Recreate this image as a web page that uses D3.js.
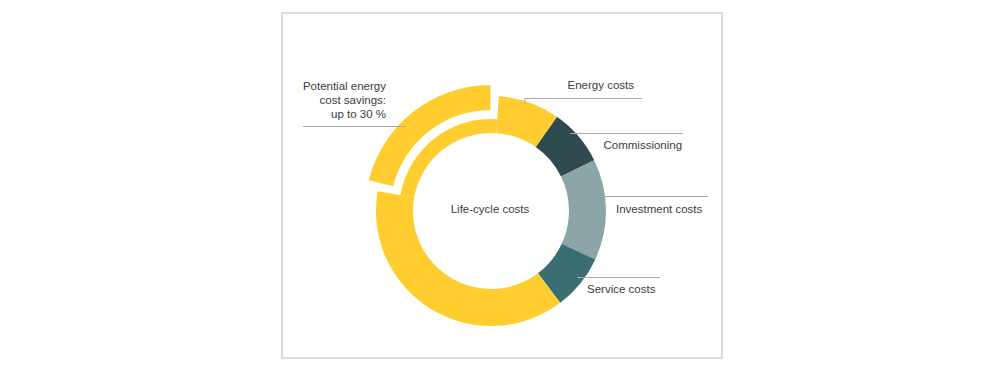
<!DOCTYPE html>
<html>
<head>
<meta charset="utf-8">
<script src="https://cdn.jsdelivr.net/npm/d3@7"></script>
<style>
  html, body { margin: 0; padding: 0; background: #fff; }
  svg { display: block; }
  text { font-family: "Liberation Sans", Arial, Helvetica, sans-serif; font-size: 11.5px; fill: #3d3d3d; }
</style>
</head>
<body>
<svg id="chart" width="1000" height="375"></svg>
<script>
// ---- data (percent of life-cycle costs) ----
const categories = ["Commissioning", "Investment costs", "Service costs", "Energy costs"];
const values     = [8, 14.2, 7.8, 70];
// energy costs split: [lower part, potential savings (30 % of energy), upper part]
const energyParts = ["energyLower", "savings", "energyUpper"];
const energyValues = [39.2, 21, 9.8];
const savingsLabel = ["Potential energy", "cost savings:", "up to 30 %"];
const centerLabel = "Life-cycle costs";

// ---- style / layout ----
const colors = {
  "Commissioning": "#2f4b50",
  "Investment costs": "#8ca5a6",
  "Service costs": "#3b6e73",
  "Energy costs": "#ffcd30"
};
const cx = 491, cy = 211;
const rInner = 78, rOuter = 115, rThin = 92;
const rSavIn = 101, rSavOut = 126;
const pad = 4.2 * Math.PI / 180;
const startAngle = 35 * Math.PI / 180;

const svg = d3.select("#chart");

// frame
svg.append("rect")
  .attr("x", 282).attr("y", 13).attr("width", 440).attr("height", 345)
  .attr("fill", "none").attr("stroke", "#cfcfcf").attr("stroke-width", 1.5);

const g = svg.append("g").attr("transform", `translate(${cx},${cy})`);

// build slice list: non-energy categories then energy parts
const slices = [];
categories.forEach((c, i) => {
  if (c !== "Energy costs") slices.push({ key: c, value: values[i], color: colors[c] });
});
energyParts.forEach((p, i) => slices.push({ key: p, value: energyValues[i], color: colors["Energy costs"] }));

const pie = d3.pie().sort(null).value(d => d.value)
  .startAngle(startAngle).endAngle(startAngle + 2 * Math.PI);
const arcs = pie(slices);

const arc = d3.arc();

arcs.forEach(a => {
  let s = a.startAngle, e = a.endAngle, ri = rInner, ro = rOuter;
  if (a.data.key === "energyLower") e = e - pad;
  if (a.data.key === "energyUpper") s = s + pad;
  if (a.data.key === "savings") { s = s - pad; e = e + pad; ro = rThin; }
  g.append("path")
    .attr("d", arc({ innerRadius: ri, outerRadius: ro, startAngle: s, endAngle: e }))
    .attr("fill", a.data.color);
  if (a.data.key === "savings") {
    g.append("path")
      .attr("d", arc({ innerRadius: rSavIn, outerRadius: rSavOut, startAngle: a.startAngle, endAngle: a.endAngle }))
      .attr("fill", a.data.color);
  }
});

// center label
g.append("text").attr("x", -1).attr("y", 2).attr("text-anchor", "middle").text(centerLabel);

// leader lines + labels (layout)
const lineColor = "#a9a9a9";
const labelLayout = [
  { name: "Energy costs",     y: 98.5,  r: 113, x2: 642, tx: 567.5, ty: 89,  tick: 6 },
  { name: "Commissioning",    y: 133.5, r: 111, x2: 683, tx: 603.5, ty: 149 },
  { name: "Investment costs", y: 196.5, r: 111, x2: 708, tx: 616,   ty: 213 },
  { name: "Service costs",    y: 277.5, r: 109, x2: 660, tx: 587,   ty: 293 }
];
labelLayout.forEach(l => {
  let x1;
  if (l.tick) {
    x1 = 525;
    svg.append("line").attr("x1", x1).attr("x2", x1).attr("y1", l.y).attr("y2", l.y + l.tick)
      .attr("stroke", lineColor).attr("stroke-width", 1);
  } else {
    x1 = cx + Math.sqrt(l.r * l.r - (l.y - cy) * (l.y - cy));
  }
  svg.append("line").attr("x1", x1).attr("x2", l.x2).attr("y1", l.y).attr("y2", l.y)
    .attr("stroke", lineColor).attr("stroke-width", 1);
  svg.append("text").attr("x", l.tx).attr("y", l.ty).text(l.name);
});

// savings label
svg.append("line").attr("x1", 303).attr("x2", 406).attr("y1", 126.5).attr("y2", 126.5)
  .attr("stroke", lineColor).attr("stroke-width", 1);
savingsLabel.forEach((t, i) => {
  svg.append("text").attr("x", 386).attr("y", 90 + i * 14.2)
    .attr("text-anchor", "end").text(t);
});
</script>
</body>
</html>
